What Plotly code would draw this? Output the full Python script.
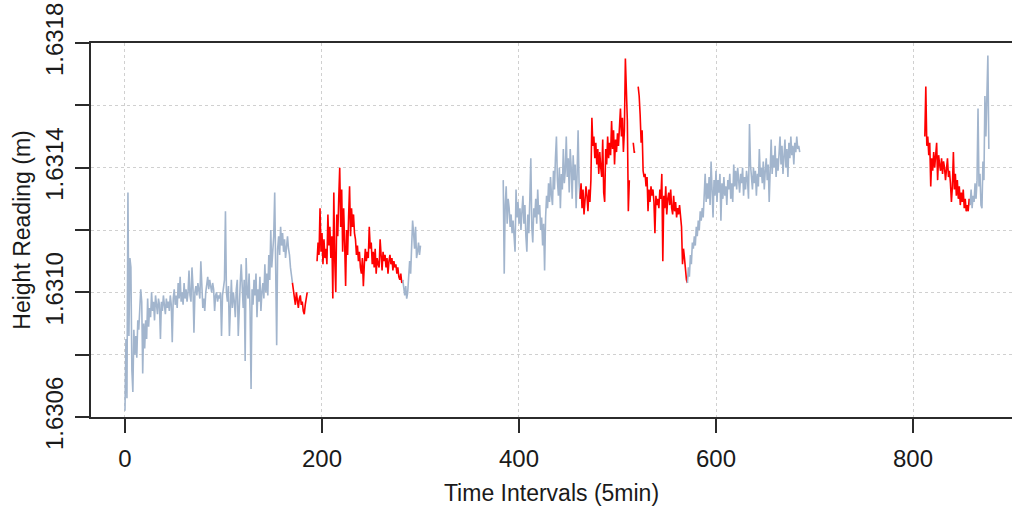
import numpy as np
import plotly.graph_objects as go

# ---- data (height readings, m) ----
seg_a_start = 0
seg_a = [1.63062, 1.63085, 1.63066, 1.63132, 1.63086, 1.63111, 1.63108, 1.63075, 1.63068, 1.63088,
         1.63080, 1.63086, 1.63079, 1.63091, 1.63088, 1.63094, 1.63101, 1.63097, 1.63074, 1.63090,
         1.63082, 1.63091, 1.63085, 1.63098, 1.63089, 1.63095, 1.63092, 1.63100, 1.63094, 1.63097,
         1.63091, 1.63099, 1.63095, 1.63093, 1.63098, 1.63096, 1.63085, 1.63097, 1.63094, 1.63099,
         1.63096, 1.63093, 1.63098, 1.63095, 1.63097, 1.63094, 1.63099, 1.63096, 1.63084, 1.63098,
         1.63101, 1.63096, 1.63099, 1.63095, 1.63103, 1.63098, 1.63105, 1.63097, 1.63100, 1.63096,
         1.63103, 1.63098, 1.63101, 1.63097, 1.63100, 1.63107, 1.63099, 1.63097, 1.63108, 1.63102,
         1.63087, 1.63100, 1.63102, 1.63099, 1.63103, 1.63101, 1.63098, 1.63110, 1.63099, 1.63095,
         1.63098, 1.63094, 1.63100, 1.63103, 1.63105, 1.63101, 1.63104, 1.63102, 1.63100, 1.63103,
         1.63101, 1.63094, 1.63099, 1.63100, 1.63097, 1.63099, 1.63098, 1.63100, 1.63086, 1.63099,
         1.63101, 1.63104, 1.63126, 1.63100, 1.63097, 1.63102, 1.63086, 1.63099, 1.63104, 1.63095,
         1.63100, 1.63097, 1.63092, 1.63101, 1.63104, 1.63086, 1.63099, 1.63103, 1.63109, 1.63098,
         1.63095, 1.63104, 1.63078, 1.63111, 1.63100, 1.63098, 1.63106, 1.63094, 1.63069, 1.63101,
         1.63096, 1.63104, 1.63099, 1.63106, 1.63092, 1.63101, 1.63097, 1.63105, 1.63094, 1.63100,
         1.63103, 1.63098, 1.63109, 1.63100, 1.63106, 1.63099, 1.63112, 1.63104, 1.63120, 1.63108,
         1.63113, 1.63118, 1.63132, 1.63104, 1.63083, 1.63114, 1.63118, 1.63112, 1.63121, 1.63115,
         1.63119, 1.63113, 1.63117, 1.63111, 1.63116, 1.63118, 1.63114, 1.63112, 1.63108, 1.63104,
         1.63103]

seg_b1_start = 170
seg_b1 = [1.63103, 1.63101, 1.63099, 1.63096, 1.63100, 1.63097, 1.63095, 1.63098, 1.63099, 1.63096,
          1.63097, 1.63094, 1.63093, 1.63096, 1.63099, 1.63100]

seg_b2_start = 195
seg_b2 = [1.63110, 1.63116, 1.63112, 1.63127, 1.63113, 1.63119, 1.63109, 1.63117, 1.63111, 1.63114,
          1.63109, 1.63125, 1.63115, 1.63121, 1.63111, 1.63118, 1.63098, 1.63132, 1.63110, 1.63100,
          1.63125, 1.63118, 1.63130, 1.63140, 1.63121, 1.63133, 1.63113, 1.63127, 1.63116, 1.63102,
          1.63120, 1.63112, 1.63124, 1.63134, 1.63118, 1.63127, 1.63121, 1.63125, 1.63119, 1.63117,
          1.63112, 1.63115, 1.63110, 1.63113, 1.63108, 1.63106, 1.63111, 1.63102, 1.63109, 1.63114,
          1.63110, 1.63113, 1.63111, 1.63121, 1.63114, 1.63116, 1.63109, 1.63113, 1.63108, 1.63114,
          1.63106, 1.63111, 1.63109, 1.63108, 1.63117, 1.63112, 1.63107, 1.63113, 1.63110, 1.63112,
          1.63108, 1.63111, 1.63106, 1.63110, 1.63112, 1.63109, 1.63111, 1.63107, 1.63110, 1.63108,
          1.63109, 1.63106, 1.63108, 1.63105, 1.63104, 1.63106, 1.63103, 1.63104]

seg_b3_start = 282
seg_b3 = [1.63104, 1.63101, 1.63099, 1.63102, 1.63098, 1.63100, 1.63104, 1.63110, 1.63106, 1.63118,
          1.63123, 1.63119, 1.63114, 1.63121, 1.63111, 1.63113, 1.63116, 1.63112, 1.63115]

seg_c1_start = 384
seg_c1 = [1.63136, 1.63106, 1.63128, 1.63134, 1.63122, 1.63130, 1.63127, 1.63121, 1.63125, 1.63119,
          1.63123, 1.63118, 1.63113, 1.63133, 1.63124, 1.63129, 1.63122, 1.63127, 1.63120, 1.63126,
          1.63131, 1.63122, 1.63128, 1.63118, 1.63113, 1.63125, 1.63119, 1.63130, 1.63143, 1.63121,
          1.63116, 1.63127, 1.63124, 1.63130, 1.63122, 1.63133, 1.63125, 1.63128, 1.63120, 1.63124,
          1.63115, 1.63122, 1.63107, 1.63124, 1.63131, 1.63127, 1.63135, 1.63129, 1.63137, 1.63131,
          1.63128, 1.63139, 1.63133, 1.63143, 1.63150, 1.63136, 1.63131, 1.63140, 1.63127, 1.63138,
          1.63133, 1.63146, 1.63135, 1.63139, 1.63150, 1.63137, 1.63143, 1.63132, 1.63146, 1.63140,
          1.63130, 1.63144, 1.63136, 1.63141, 1.63127, 1.63138, 1.63152, 1.63135, 1.63130]

seg_c2_start = 462
seg_c2 = [1.63130, 1.63135, 1.63127, 1.63133, 1.63125, 1.63129, 1.63134, 1.63131, 1.63126, 1.63133,
          1.63129, 1.63136, 1.63156, 1.63147, 1.63150, 1.63143, 1.63148, 1.63141, 1.63146, 1.63138,
          1.63145, 1.63140, 1.63137, 1.63149, 1.63132, 1.63129, 1.63146, 1.63141, 1.63150, 1.63143,
          1.63148, 1.63144, 1.63155, 1.63146, 1.63152, 1.63141, 1.63149, 1.63145, 1.63151, 1.63147,
          1.63153, 1.63159, 1.63150, 1.63156, 1.63145, 1.63152, 1.63175, 1.63160, 1.63155, 1.63126,
          1.63136, None, None, None, 1.63148, 1.63145, 1.63145, None, None, 1.63166,
          1.63163, 1.63157, 1.63148, 1.63152, 1.63139, 1.63137, 1.63138, 1.63134, 1.63137, 1.63126,
          1.63133, 1.63129, 1.63134, 1.63131, 1.63133, 1.63129, 1.63119, 1.63131, 1.63128, 1.63130,
          1.63127, 1.63133, 1.63130, 1.63138, 1.63110, 1.63131, 1.63127, 1.63134, 1.63125, 1.63130,
          1.63132, 1.63128, 1.63133, 1.63127, 1.63125, 1.63131, 1.63126, 1.63129, 1.63124, 1.63127,
          1.63125, 1.63128, 1.63124, 1.63121, 1.63109, 1.63114, 1.63111, 1.63107, 1.63104, 1.63103]

seg_c3_start = 571
seg_c3 = [1.63103, 1.63108, 1.63105, 1.63112, 1.63109, 1.63116, 1.63114, 1.63118, 1.63115, 1.63121,
          1.63118, 1.63123, 1.63120, 1.63126, 1.63123, 1.63127, 1.63124, 1.63131, 1.63138, 1.63129,
          1.63135, 1.63130, 1.63137, 1.63128, 1.63142, 1.63133, 1.63124, 1.63136, 1.63131, 1.63139,
          1.63129, 1.63136, 1.63132, 1.63138, 1.63123, 1.63135, 1.63130, 1.63137, 1.63131, 1.63134,
          1.63128, 1.63136, 1.63133, 1.63138, 1.63130, 1.63135, 1.63129, 1.63141, 1.63134, 1.63139,
          1.63133, 1.63140, 1.63136, 1.63132, 1.63138, 1.63135, 1.63140, 1.63131, 1.63137, 1.63133,
          1.63139, 1.63136, 1.63130, 1.63154, 1.63141, 1.63137, 1.63133, 1.63140, 1.63135, 1.63139,
          1.63131, 1.63138, 1.63134, 1.63146, 1.63137, 1.63140, 1.63135, 1.63142, 1.63133, 1.63139,
          1.63143, 1.63136, 1.63141, 1.63129, 1.63145, 1.63149, 1.63138, 1.63144, 1.63140, 1.63147,
          1.63137, 1.63143, 1.63139, 1.63145, 1.63150, 1.63141, 1.63147, 1.63138, 1.63144, 1.63149,
          1.63140, 1.63146, 1.63137, 1.63148, 1.63143, 1.63150, 1.63144, 1.63147, 1.63141, 1.63148,
          1.63145, 1.63150, 1.63146, 1.63147, 1.63145]

seg_d1_start = 812
seg_d1 = [1.63150, 1.63166, 1.63147, 1.63150, 1.63144, 1.63148, 1.63134, 1.63143, 1.63139, 1.63145,
          1.63140, 1.63143, 1.63148, 1.63136, 1.63144, 1.63141, 1.63139, 1.63143, 1.63138, 1.63142,
          1.63140, 1.63136, 1.63141, 1.63143, 1.63137, 1.63139, 1.63135, 1.63129, 1.63134, 1.63145,
          1.63133, 1.63138, 1.63131, 1.63136, 1.63130, 1.63134, 1.63128, 1.63132, 1.63129, 1.63133,
          1.63127, 1.63130, 1.63126, 1.63128, 1.63126, 1.63130, 1.63128]

seg_d2_start = 858
seg_d2 = [1.63128, 1.63133, 1.63127, 1.63131, 1.63129, 1.63135, 1.63130, 1.63136, 1.63159, 1.63134,
          1.63138, 1.63128, 1.63127, 1.63142, 1.63136, 1.63163, 1.63150, 1.63161, 1.63176, 1.63146]

x_ticks = [0, 200, 400, 600, 800]
y_ticks = [1.6306, 1.6308, 1.6310, 1.6312, 1.6314, 1.6316, 1.6318]
y_tick_text = ["1.6306", "", "1.6310", "", "1.6314", "", "1.6318"]

BLUE = "#a2b5cd"
RED = "#ff0000"

segments = [
    (seg_a_start, seg_a, BLUE),
    (seg_b1_start, seg_b1, RED),
    (seg_b2_start, seg_b2, RED),
    (seg_b3_start, seg_b3, BLUE),
    (seg_c1_start, seg_c1, BLUE),
    (seg_c2_start, seg_c2, RED),
    (seg_c3_start, seg_c3, BLUE),
    (seg_d1_start, seg_d1, RED),
    (seg_d2_start, seg_d2, BLUE),
]

fig = go.Figure()
for start, vals, col in segments:
    xs = np.arange(start, start + len(vals))
    fig.add_trace(go.Scatter(x=xs, y=vals, mode="lines",
                             line=dict(color=col, width=1.6),
                             connectgaps=False, hoverinfo="skip"))

axis_col = "#2b2b2b"
grid_col = "#d0d0d0"
fig.update_layout(
    width=1012, height=506,
    margin=dict(l=91, r=0, t=43, b=89),
    paper_bgcolor="white", plot_bgcolor="white",
    showlegend=False,
    font=dict(family="Liberation Sans, Arial, sans-serif", size=23, color="#1a1a1a"),
    xaxis=dict(
        range=[-34.5, 900.5], tickvals=x_ticks, ticks="outside", ticklen=14,
        tickwidth=1.5, tickcolor=axis_col, showline=True, linecolor=axis_col,
        linewidth=1.5, mirror=True, showgrid=True, gridcolor=grid_col,
        griddash="dot", gridwidth=1, zeroline=False,
        tickfont=dict(size=24), ticklabelstandoff=5,
        title=dict(text="Time Intervals (5min)", font=dict(size=23), standoff=14),
    ),
    yaxis=dict(
        range=[1.6306, 1.6318], tickvals=y_ticks, ticktext=y_tick_text,
        tickangle=-90, ticks="outside", ticklen=14, tickwidth=1.5,
        tickcolor=axis_col, showline=True, linecolor=axis_col, linewidth=1.5,
        showgrid=True, gridcolor=grid_col, griddash="dot", gridwidth=1,
        zeroline=False, tickfont=dict(size=24), ticklabelstandoff=3,
        title=dict(text="Height Reading (m)", font=dict(size=23), standoff=4),
    ),
)

fig.write_html("out.html")
